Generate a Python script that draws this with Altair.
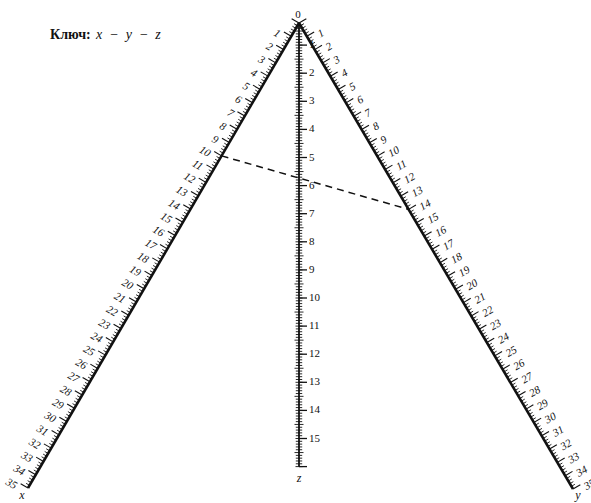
import altair as alt
import numpy as np
import pandas as pd

# ---- scale values -------------------------------------------------------
x_labels = list(range(1, 36))          # labelled values on the x scale
y_labels = list(range(1, 36))          # labelled values on the y scale
z_labels = list(range(1, 16))          # labelled values on the z scale
x_max, y_max, z_max = 35, 35, 16
key_x, key_y = 10, 14                  # worked example drawn as a dashed line

# ---- nomogram geometry (pixel frame of the page) -------------------------
W, H = 591, 503
APEX = np.array([299.0, 23.0])
X_STEP = (np.array([28.0, 488.0]) - APEX) / x_max   # one unit along x scale
Y_STEP = (np.array([573.0, 489.0]) - APEX) / y_max  # one unit along y scale
Z_TOP, Z_STEP = 17.0, 28.1                            # vertical z scale
INK = "#111111"


def unit(v):
    return v / np.linalg.norm(v)


def upward_normal(d):
    n = np.array([-d[1], d[0]])
    return -n if n[1] > 0 else n


X_DIR, Y_DIR = unit(X_STEP), unit(Y_STEP)
X_NORM, Y_NORM = upward_normal(X_DIR), upward_normal(Y_DIR)


def x_pt(v):
    return APEX + np.outer(np.atleast_1d(v), X_STEP)


def y_pt(v):
    return APEX + np.outer(np.atleast_1d(v), Y_STEP)


def z_pt(v):
    v = np.atleast_1d(np.asarray(v, dtype=float))
    return np.column_stack([np.full(len(v), APEX[0]), Z_TOP + v * Z_STEP])


def tick_len(v, major, medium, minor):
    v = np.asarray(v)
    frac1 = np.abs(v - np.round(v))
    frac5 = np.abs(v * 2 - np.round(v * 2))
    out = np.full(len(v), minor)
    out[frac5 < 1e-6] = medium
    out[frac1 < 1e-6] = major
    return out


rows = []
# slanted scales: ticks on the outer side
for pt_fn, norm, vmax in [(x_pt, X_NORM, x_max), (y_pt, Y_NORM, y_max)]:
    vals = np.round(np.arange(0, vmax + 1e-9, 0.2), 2)
    p = pt_fn(vals)
    ln = tick_len(vals, 8.5, 5.5, 4.0)
    for (a, b), L in zip(p, ln):
        rows.append(dict(x=a, y=b, x2=a + norm[0] * L, y2=b + norm[1] * L,
                         w=1.1 if L > 6 else 0.9))
# vertical z scale: fine hatching on both sides, integer ticks to the right
zvals = np.round(np.arange(0.3, z_max + 1e-9, 0.1), 2)
zp = z_pt(zvals)
zl = tick_len(zvals, 3.5, 4.5, 3.2)
for (a, b), L in zip(zp, zl):
    rows.append(dict(x=a - L, y=b, x2=a + L, y2=b, w=0.9))
for (a, b) in z_pt(np.arange(1, z_max + 1)):
    rows.append(dict(x=a, y=b, x2=a + 8, y2=b, w=1.3))
ticks = pd.DataFrame(rows)

# scale lines
ends = np.vstack([x_pt(x_max), y_pt(y_max), z_pt(z_max)])
lines = pd.DataFrame(dict(x=[APEX[0]] * 3, y=[APEX[1]] * 3,
                          x2=ends[:, 0], y2=ends[:, 1], w=[2.6, 2.6, 1.8]))

# labels: pushed out along the tick and slightly down the scale
xl = x_pt(x_labels) + X_NORM * 11 + X_DIR * 5
yl = y_pt(y_labels) + Y_NORM * 11 + Y_DIR * 5
zl_ = z_pt(z_labels) + np.array([10.0, 0.0])
x_lab = pd.DataFrame(dict(x=xl[:, 0], y=xl[:, 1], t=[str(v) for v in x_labels]))
y_lab = pd.DataFrame(dict(x=yl[:, 0], y=yl[:, 1], t=[str(v) for v in y_labels]))
z_lab = pd.DataFrame(dict(x=zl_[:, 0], y=zl_[:, 1], t=[str(v) for v in z_labels]))

# dashed example line
k1, k2 = x_pt(key_x)[0], y_pt(key_y)[0]
key_line = pd.DataFrame(dict(x=[k1[0]], y=[k1[1]], x2=[k2[0]], y2=[k2[1]]))

# scale names and the shared zero
names = pd.DataFrame(dict(
    x=[ends[0, 0] - 6, ends[1, 0] + 5, ends[2, 0]],
    y=[ends[0, 1] + 7, ends[1, 1] + 6, ends[2, 1] + 11],
    t=["x", "y", "z"]))
zero = pd.DataFrame(dict(x=[APEX[0] - 1], y=[APEX[1] - 8], t=["0"]))

X = alt.X("x:Q", scale=alt.Scale(domain=[0, W]), axis=None)
Y = alt.Y("y:Q", scale=alt.Scale(domain=[H, 0]), axis=None)
SERIF = "Liberation Serif"

tick_layer = alt.Chart(ticks).mark_rule(color=INK).encode(
    X, Y, x2="x2:Q", y2="y2:Q", strokeWidth=alt.StrokeWidth("w:Q", scale=None))
line_layer = alt.Chart(lines).mark_rule(color=INK).encode(
    X, Y, x2="x2:Q", y2="y2:Q", strokeWidth=alt.StrokeWidth("w:Q", scale=None))
key_layer = alt.Chart(key_line).mark_rule(
    color=INK, strokeWidth=1.5, strokeDash=[7, 5]).encode(X, Y, x2="x2:Q", y2="y2:Q")

x_text = alt.Chart(x_lab).mark_text(
    font=SERIF, fontStyle="italic", fontSize=11, align="right",
    baseline="middle", angle=30, color=INK).encode(X, Y, text="t:N")
y_text = alt.Chart(y_lab).mark_text(
    font=SERIF, fontStyle="italic", fontSize=11, align="left",
    baseline="middle", angle=330, color=INK).encode(X, Y, text="t:N")
z_text = alt.Chart(z_lab).mark_text(
    font=SERIF, fontSize=11, align="left", baseline="middle",
    color=INK).encode(X, Y, text="t:N")
name_text = alt.Chart(names).mark_text(
    font=SERIF, fontSize=12, fontStyle="italic", align="center",
    baseline="middle", color=INK).encode(X, Y, text="t:N")
zero_text = alt.Chart(zero).mark_text(
    font=SERIF, fontSize=11, align="center", baseline="middle",
    color=INK).encode(X, Y, text="t:N")

title = pd.DataFrame(dict(x=[50.0], y=[35.0], t=["Ключ:"]))
formula = pd.DataFrame(dict(x=[96.0], y=[35.0],
                            t=["x\u2002\u2212\u2002y\u2002\u2212\u2002z"]))
title_text = alt.Chart(title).mark_text(
    font=SERIF, fontSize=14, fontWeight="bold", align="left",
    baseline="middle", color=INK).encode(X, Y, text="t:N")
formula_text = alt.Chart(formula).mark_text(
    font=SERIF, fontSize=14, fontStyle="italic", align="left",
    baseline="middle", color=INK).encode(X, Y, text="t:N")

chart = alt.layer(
    tick_layer, line_layer, key_layer, x_text, y_text, z_text,
    name_text, zero_text, title_text, formula_text
).properties(
    width=W, height=H, autosize=alt.AutoSizeParams(type="none"), padding=0,
    background="white"
).configure_view(stroke=None)

chart.save("out.html", embed_options={"renderer": "svg", "actions": False})
